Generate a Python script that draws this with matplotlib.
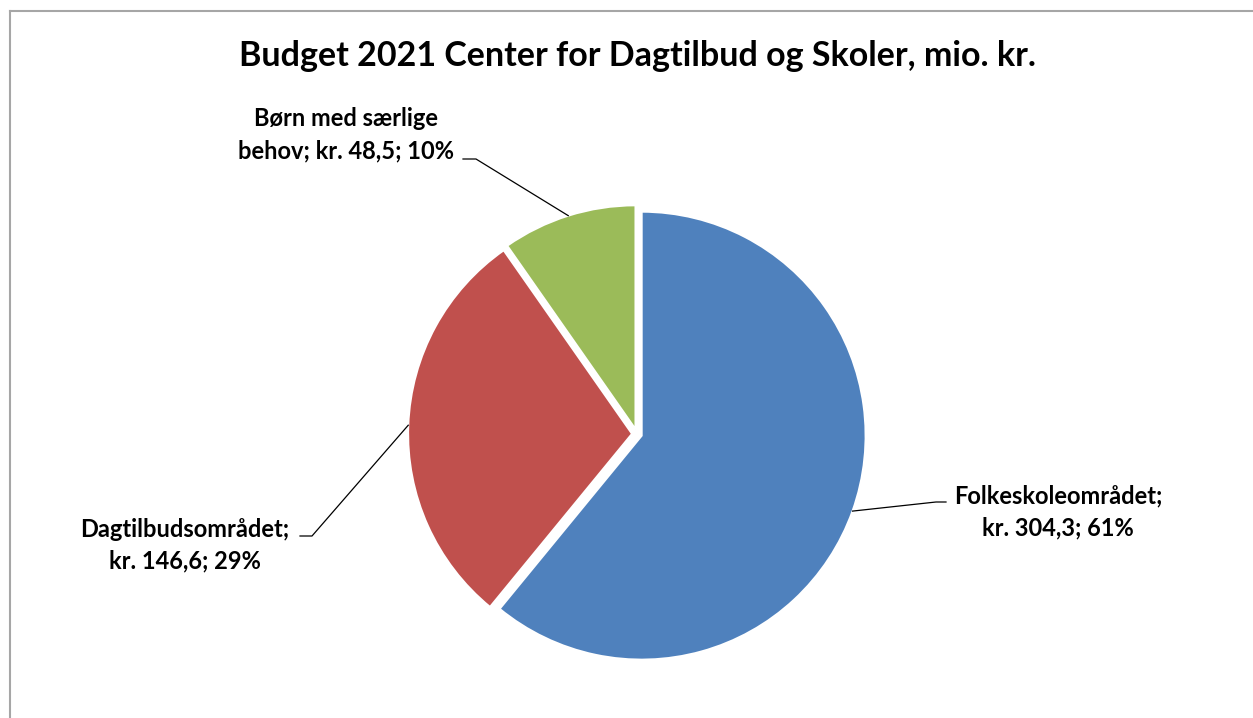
import matplotlib
matplotlib.use("Agg")
import matplotlib.pyplot as plt
import numpy as np
from matplotlib.lines import Line2D

plt.rcParams['font.family'] = ['Lato', 'DejaVu Sans']

# Data
categories = ["Folkeskoleområdet", "Dagtilbudsområdet", "Børn med særlige behov"]
values = [304.3, 146.6, 48.5]
colors = ["#4F81BD", "#C0504D", "#9BBB59"]
title = "Budget 2021 Center for Dagtilbud og Skoler, mio. kr."

W, H = 1253, 718
fig = plt.figure(figsize=(W / 100, H / 100), dpi=100)
ax = fig.add_axes([0, 0, 1, 1])

def Y(y):
    return H - y

cx, cy, r = 637, 434, 224
wedges, _ = ax.pie(values, colors=colors, startangle=90, counterclock=False,
                   center=(cx, Y(cy)), radius=r, explode=[0.022 * r] * 3,
                   wedgeprops=dict(edgecolor='white', linewidth=1.5),
                   frame=True)
ax.set_xlim(0, W)
ax.set_ylim(0, H)
ax.set_aspect('equal')
ax.axis('off')

total = sum(values)

def fmt(v):
    return f"{v:.1f}".replace('.', ',')

layout = [
    dict(lines=[f"{categories[0]};", f"kr. {fmt(values[0])}; {round(values[0]/total*100)}%"],
         x=1058, ys=[503, 535], elbow=(936, 502), end=(946, 502)),
    dict(lines=[f"{categories[1]};", f"kr. {fmt(values[1])}; {round(values[1]/total*100)}%"],
         x=185, ys=[537, 568], elbow=(312, 536), end=(300, 536)),
    dict(lines=["Børn med særlige", f"behov; kr. {fmt(values[2])}; {round(values[2]/total*100)}%"],
         x=346, ys=[126, 158], elbow=(476, 159), end=(463, 159)),
]

for w, lay in zip(wedges, layout):
    th = np.deg2rad((w.theta1 + w.theta2) / 2)
    px = w.center[0] + w.r * np.cos(th)
    py = w.center[1] + w.r * np.sin(th)
    ex, ey = lay['elbow']
    tx, ty = lay['end']
    ax.add_line(Line2D([px, ex, tx], [py, Y(ey), Y(ty)], color='black', linewidth=0.9))
    for line, yb in zip(lay['lines'], lay['ys']):
        ax.text(lay['x'], Y(yb), line, ha='center', va='baseline',
                fontsize=17, fontweight='bold', color='black')

ax.text(637.5, Y(66), title, ha='center', va='baseline', fontsize=24.5,
        fontweight='bold', color='black')

# outer chart border (left and top visible)
fig.add_artist(Line2D([10 / W, 10 / W], [0, 1 - 11 / H], transform=fig.transFigure,
                      color='#A6A6A6', linewidth=1.5))
fig.add_artist(Line2D([10 / W, 1], [1 - 11 / H, 1 - 11 / H], transform=fig.transFigure,
                      color='#A6A6A6', linewidth=1.5))

fig.savefig("out.png", dpi=100, facecolor='white')
